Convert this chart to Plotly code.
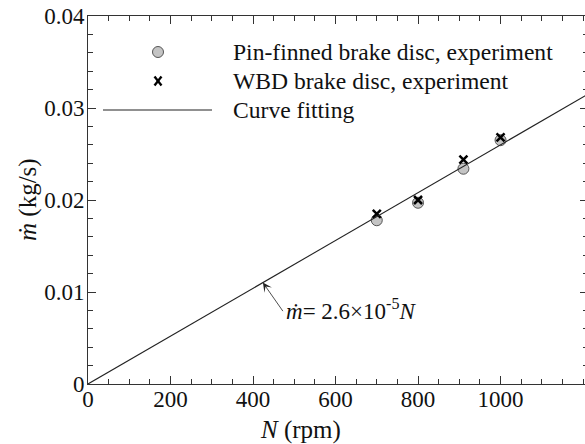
import plotly.graph_objects as go

# Data
pin_N = [700, 800, 910, 1000]
pin_m = [0.0178, 0.0197, 0.0234, 0.0265]
wbd_N = [700, 800, 910, 1000]
wbd_m = [0.0185, 0.0200, 0.0244, 0.0268]
fit_N = [0, 1212]
fit_m = [0, 0.03151]

x_ticks = [0, 200, 400, 600, 800, 1000]
y_ticks = [0, 0.01, 0.02, 0.03, 0.04]
y_tick_labels = ["0", "0.01", "0.02", "0.03", "0.04"]

legend_labels = ["Pin-finned brake disc, experiment",
                 "WBD brake disc, experiment",
                 "Curve fitting"]

FONT = "Liberation Serif, Times New Roman, serif"
W, H = 588, 444          # slightly wider than the window: the right frame is cropped off as in the reference
ML, MR, MT, MB = 88, 0, 16, 60
PW, PH = W - ML - MR, H - MT - MB


def px(xp):
    return (xp - ML) / PW


def py(yp):
    return (H - MB - yp) / PH


fig = go.Figure()
fig.add_trace(go.Scatter(
    x=pin_N, y=pin_m, mode="markers", name=legend_labels[0],
    marker=dict(symbol="circle", size=11, color="#c4c4c4",
                line=dict(color="#555555", width=1)),
))
fig.add_trace(go.Scatter(
    x=wbd_N, y=wbd_m, mode="markers", name=legend_labels[1],
    marker=dict(symbol="x-thin", size=8, color="black",
                line=dict(color="black", width=2.5)),
))
fig.add_trace(go.Scatter(
    x=fit_N, y=fit_m, mode="lines", name=legend_labels[2],
    line=dict(color="#222222", width=1.1),
))

axis_common = dict(
    showline=True, linecolor="#333333", linewidth=1, mirror="ticks",
    ticks="inside", ticklen=8, tickwidth=1, tickcolor="#333333",
    showgrid=False, zeroline=False, automargin=False,
    tickfont=dict(family=FONT, size=23, color="#111111"),
)

fig.update_xaxes(
    range=[0, 1212], tickvals=x_ticks, ticklabelstandoff=-6,
    minor=dict(dtick=50, ticks="inside", ticklen=5, tickcolor="#333333", showgrid=False),
    **axis_common,
)
fig.update_yaxes(
    range=[0, 0.04], tickvals=y_ticks, ticktext=y_tick_labels, ticklabelstandoff=-2,
    minor=dict(dtick=0.002, ticks="inside", ticklen=5, tickcolor="#333333", showgrid=False),
    **axis_common,
)

# axis titles
fig.add_annotation(
    xref="paper", yref="paper", x=px(300), y=py(430), xanchor="center", yanchor="middle",
    text="<i>N</i> (rpm)", showarrow=False,
    font=dict(family=FONT, size=25, color="#111111"),
)
fig.add_annotation(
    xref="paper", yref="paper", x=px(28), y=py(200), xanchor="center", yanchor="middle",
    text="<i>ṁ</i> (kg/s)", showarrow=False, textangle=-90,
    font=dict(family=FONT, size=25, color="#111111"),
)

# arrow pointing to the fit line
fig.add_annotation(
    x=424, y=0.01102, xref="x", yref="y", text="", showarrow=True,
    ax=21, ay=30, arrowhead=3, arrowsize=1.9, arrowwidth=0.8, arrowcolor="#222222",
)
fig.add_annotation(
    xref="paper", yref="paper", x=px(284), y=py(309),
    xanchor="left", yanchor="middle", showarrow=False,
    text="<i>ṁ</i>= 2.6×10<sup>-5</sup><i>N</i>",
    font=dict(family=FONT, size=23, color="#111111"),
)

# custom legend (symbols + labels)
leg_rows = [52, 81, 110]
fig.add_shape(type="circle", xref="paper", yref="paper", xsizemode="pixel", ysizemode="pixel",
              xanchor=px(158), yanchor=py(leg_rows[0]), x0=-5.5, x1=5.5, y0=-5.5, y1=5.5,
              fillcolor="#c4c4c4", line=dict(color="#555555", width=1))
for s in (1, -1):
    fig.add_shape(type="line", xref="paper", yref="paper", xsizemode="pixel", ysizemode="pixel",
                  xanchor=px(158), yanchor=py(leg_rows[1]), x0=-3.5, x1=3.5, y0=-4.5 * s, y1=4.5 * s,
                  line=dict(color="black", width=2.3))
fig.add_shape(type="line", xref="paper", yref="paper",
              x0=px(103), x1=px(212), y0=py(leg_rows[2]), y1=py(leg_rows[2]),
              line=dict(color="#222222", width=1.1))
for lab, yr in zip(legend_labels, leg_rows):
    fig.add_annotation(xref="paper", yref="paper", x=px(231), y=py(yr),
                       xanchor="left", yanchor="middle", showarrow=False, text=lab,
                       font=dict(family=FONT, size=23.6, color="#111111"))

fig.update_layout(
    width=W, height=H,
    margin=dict(l=ML, r=MR, t=MT, b=MB),
    paper_bgcolor="white", plot_bgcolor="white",
    font=dict(family=FONT, color="#111111"),
    showlegend=False,
)

fig.write_html(
    "out.html",
    config={"displayModeBar": False},
    post_script="document.body.style.margin='0';document.body.style.overflow='hidden';",
)
